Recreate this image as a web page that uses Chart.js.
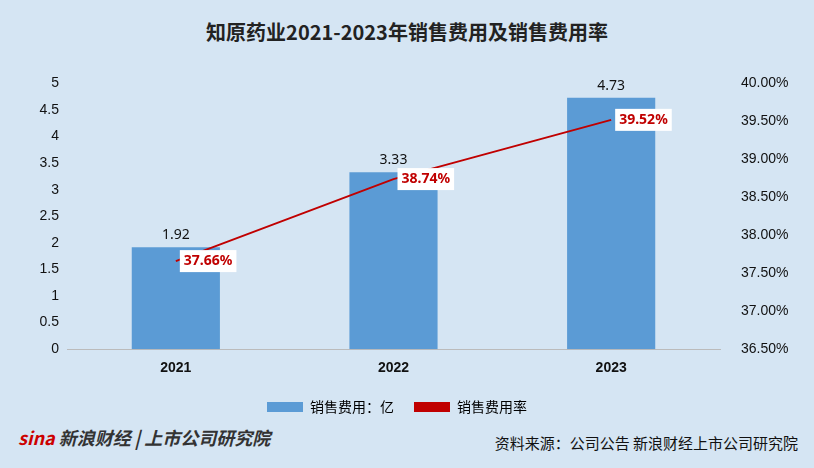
<!DOCTYPE html><html><head><meta charset="utf-8">
<script src="https://cdn.jsdelivr.net/npm/chart.js@4"></script>
<style>html,body{margin:0;padding:0;background:#d5e5f3;}#w{position:relative;width:814px;height:468px;font-family:"Noto Sans CJK SC",sans-serif;}
#t{position:absolute;top:17px;width:100%;text-align:center;font-weight:bold;font-size:20px;color:#222;}
#f{position:absolute;right:16px;top:432px;font-size:15px;color:#111;}
#l{position:absolute;left:18px;top:424px;font-size:18px;font-weight:bold;color:#333;font-style:italic}
#c{position:absolute;left:0;top:62px;}</style></head><body><div id="w">
<div id="t">知原药业2021-2023年销售费用及销售费用率</div>
<canvas id="c" width="814" height="362"></canvas>
<div id="l"><span style="color:#c00">sina</span> 新浪财经 | 上市公司研究院</div>
<div id="f">资料来源：公司公告 新浪财经上市公司研究院</div>
</div>
<script>
const categories=["2021","2022","2023"];
const expense=[1.92,3.33,4.73];
const rate=[37.66,38.74,39.52];
const labelsPlugin={id:'lbl',afterDatasetsDraw(ch){const c=ch.ctx;
 ch.getDatasetMeta(0).data.forEach((b,i)=>{c.font='14px "Noto Sans",sans-serif';c.fillStyle='#111';c.textAlign='center';c.textBaseline='bottom';c.fillText(expense[i].toFixed(2),b.x,b.y-5);});
 ch.getDatasetMeta(1).data.forEach((p,i)=>{const s=rate[i].toFixed(2)+'%';c.font='bold 14px "Noto Sans",sans-serif';const w=c.measureText(s).width+8;const x=p.x+4,y=p.y-11;c.fillStyle='#fff';c.fillRect(x,y,w,22);c.fillStyle='#c00000';c.textAlign='left';c.textBaseline='middle';c.fillText(s,x+4,y+11);});}};
new Chart(document.getElementById('c'),{data:{labels:categories,datasets:[
{type:'bar',label:'销售费用：亿',data:expense,backgroundColor:'#5b9bd5',yAxisID:'y',barPercentage:0.81,categoryPercentage:0.5,order:2},
{type:'line',label:'销售费用率',data:rate,borderColor:'#c00000',backgroundColor:'#c00000',borderWidth:2,pointRadius:0,yAxisID:'y1',order:1}]},
options:{responsive:false,animation:false,layout:{padding:{left:4,right:24,top:3}},
plugins:{legend:{position:'bottom',labels:{font:{size:14,family:'"Noto Sans CJK SC"'},color:'#111',boxWidth:36,boxHeight:10,padding:20,generateLabels(ch){return[{text:'销售费用：亿',fillStyle:'#5b9bd5',strokeStyle:'#5b9bd5',lineWidth:0,datasetIndex:0},{text:'销售费用率',fillStyle:'#c00000',strokeStyle:'#c00000',lineWidth:0,datasetIndex:1}]}}},tooltip:{enabled:false}},
scales:{x:{grid:{display:false},border:{color:'#bbb'},ticks:{font:{size:14,weight:'bold'},color:'#111'}},
y:{min:0,max:5,afterFit(s){s.width=63;},ticks:{stepSize:0.5,font:{size:14},color:'#111',padding:0,callback:v=>String(v)},grid:{display:false},border:{display:false}},
y1:{position:'right',min:36.5,max:40,afterFit(s){s.width=70;},ticks:{stepSize:0.5,font:{size:14},color:'#111',padding:13,callback:v=>v.toFixed(2)+'%'},grid:{display:false},border:{display:false}}}},plugins:[labelsPlugin]});
</script></body></html>
